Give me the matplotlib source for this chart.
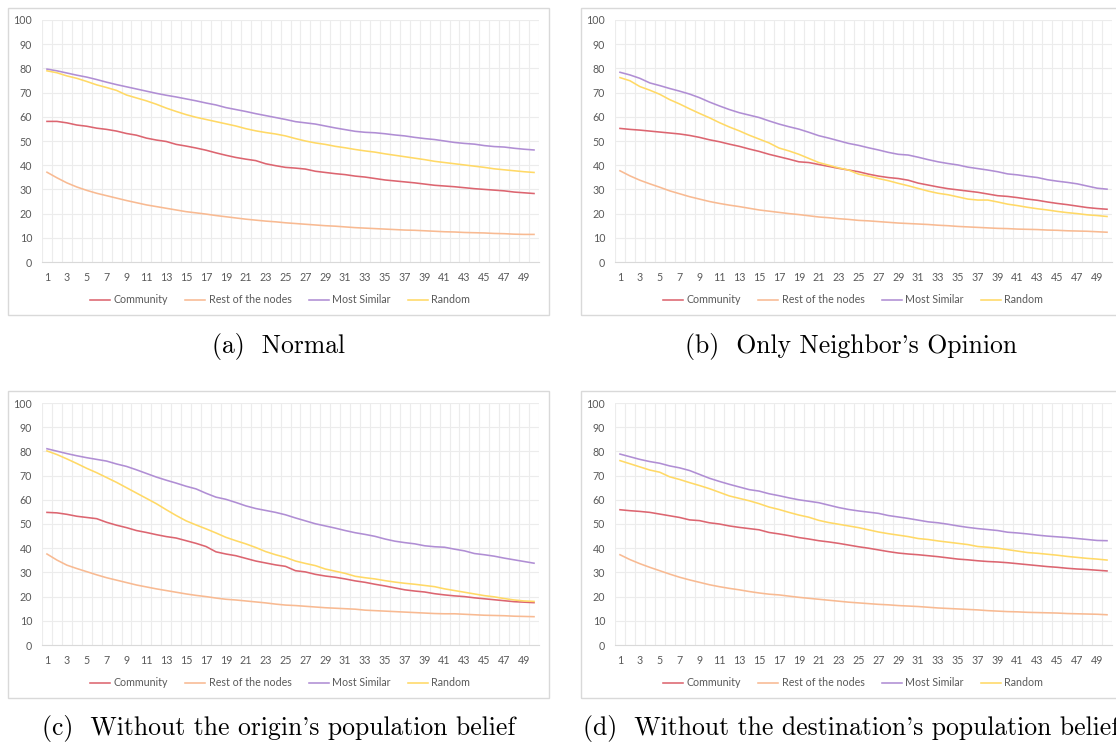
import matplotlib.pyplot as plt
import matplotlib.patches as patches
import numpy as np

W, H = 1116, 742

steps = list(range(1, 51))
series_names = ['Community', 'Rest of the nodes', 'Most Similar', 'Random']
series_colors = ['#DC6570', '#F8BA92', '#B08ED4', '#FFD966']

# (a) Normal
community_a = [58.1, 58.1, 57.5, 56.6, 56.1, 55.3, 54.8, 54.1, 53.1, 52.4,
               51.2, 50.4, 49.8, 48.6, 47.9, 47.1, 46.2, 45.1, 44.1, 43.2,
               42.5, 41.9, 40.6, 39.8, 39.1, 38.8, 38.4, 37.5, 37.0, 36.5,
               36.1, 35.5, 35.1, 34.5, 33.9, 33.5, 33.1, 32.7, 32.2, 31.7,
               31.4, 31.1, 30.7, 30.3, 30.0, 29.7, 29.4, 28.9, 28.6, 28.3]
rest_a = [37.1, 34.8, 32.7, 31.0, 29.6, 28.4, 27.4, 26.4, 25.4, 24.5,
          23.6, 22.9, 22.2, 21.5, 20.8, 20.3, 19.8, 19.2, 18.7, 18.2,
          17.7, 17.3, 16.9, 16.6, 16.2, 15.9, 15.6, 15.3, 15.0, 14.8,
          14.5, 14.2, 14.0, 13.8, 13.6, 13.4, 13.2, 13.1, 12.9, 12.7,
          12.5, 12.4, 12.2, 12.1, 12.0, 11.8, 11.7, 11.5, 11.4, 11.4]
similar_a = [79.7, 79.0, 78.1, 77.2, 76.4, 75.4, 74.3, 73.3, 72.4, 71.5,
             70.6, 69.7, 68.9, 68.2, 67.4, 66.6, 65.7, 64.9, 63.8, 63.0,
             62.2, 61.3, 60.5, 59.7, 58.9, 58.0, 57.5, 57.0, 56.2, 55.4,
             54.7, 54.0, 53.6, 53.4, 53.0, 52.5, 52.1, 51.5, 51.0, 50.6,
             50.0, 49.4, 49.0, 48.7, 48.1, 47.7, 47.5, 47.0, 46.6, 46.3]
random_a = [79.0, 78.2, 76.9, 75.9, 74.6, 73.2, 72.1, 70.9, 69.0, 67.8,
            66.6, 65.2, 63.6, 62.2, 60.9, 59.8, 58.9, 58.0, 57.1, 56.2,
            55.1, 54.2, 53.5, 52.9, 52.1, 51.0, 50.0, 49.2, 48.6, 47.8,
            47.2, 46.5, 45.9, 45.4, 44.7, 44.1, 43.5, 42.9, 42.3, 41.6,
            41.1, 40.6, 40.1, 39.6, 39.1, 38.5, 38.1, 37.7, 37.3, 37.0]

# (b) Only Neighbor's Opinion
community_b = [55.2, 54.8, 54.5, 54.1, 53.7, 53.3, 52.9, 52.3, 51.5, 50.5,
               49.7, 48.7, 47.8, 46.7, 45.7, 44.5, 43.5, 42.5, 41.4, 41.1,
               40.3, 39.5, 38.7, 38.0, 37.3, 36.3, 35.5, 34.9, 34.5, 33.8,
               32.6, 31.8, 31.0, 30.3, 29.8, 29.3, 28.8, 28.1, 27.4, 27.1,
               26.6, 26.0, 25.5, 24.8, 24.2, 23.7, 23.1, 22.5, 22.1, 21.8]
rest_b = [37.7, 35.6, 33.8, 32.3, 30.9, 29.4, 28.2, 27.0, 26.0, 25.0,
          24.2, 23.5, 22.9, 22.2, 21.5, 21.0, 20.5, 20.0, 19.6, 19.1,
          18.6, 18.3, 17.9, 17.6, 17.2, 17.0, 16.7, 16.4, 16.1, 15.9,
          15.7, 15.5, 15.2, 15.0, 14.7, 14.5, 14.3, 14.1, 13.9, 13.8,
          13.6, 13.5, 13.4, 13.2, 13.1, 12.9, 12.8, 12.7, 12.5, 12.3]
similar_b = [78.4, 77.3, 75.9, 74.0, 72.9, 71.7, 70.6, 69.4, 67.9, 66.1,
             64.5, 63.0, 61.7, 60.7, 59.7, 58.3, 57.0, 55.9, 54.9, 53.6,
             52.2, 51.2, 50.1, 49.0, 48.2, 47.2, 46.3, 45.3, 44.5, 44.2,
             43.3, 42.3, 41.4, 40.7, 40.1, 39.2, 38.6, 38.0, 37.3, 36.4,
             36.0, 35.4, 34.9, 34.0, 33.4, 32.9, 32.3, 31.4, 30.5, 30.1]
random_b = [76.2, 74.9, 72.5, 71.0, 69.3, 67.1, 65.3, 63.3, 61.4, 59.6,
            57.6, 55.8, 54.2, 52.4, 50.8, 49.2, 47.1, 45.9, 44.5, 42.8,
            41.1, 40.0, 38.9, 38.0, 36.3, 35.5, 34.5, 33.6, 32.5, 31.5,
            30.4, 29.3, 28.4, 27.8, 26.9, 26.0, 25.6, 25.6, 24.8, 23.9,
            23.3, 22.6, 22.0, 21.5, 20.9, 20.4, 20.0, 19.5, 19.2, 18.8]

# (c) Without the origin's population belief
community_c = [54.8, 54.6, 54.0, 53.2, 52.7, 52.2, 50.7, 49.5, 48.5, 47.3,
               46.5, 45.6, 44.8, 44.2, 43.1, 42.0, 40.7, 38.5, 37.6, 36.9,
               35.8, 34.7, 33.9, 33.1, 32.5, 30.7, 30.2, 29.2, 28.5, 28.0,
               27.3, 26.5, 25.9, 25.1, 24.4, 23.6, 22.8, 22.3, 21.9, 21.2,
               20.7, 20.3, 20.0, 19.5, 19.1, 18.7, 18.3, 17.9, 17.7, 17.5]
rest_c = [37.6, 35.1, 33.0, 31.6, 30.3, 29.0, 27.8, 26.8, 25.8, 24.8,
          24.0, 23.2, 22.5, 21.8, 21.1, 20.5, 20.0, 19.4, 18.9, 18.6,
          18.2, 17.8, 17.4, 16.9, 16.5, 16.3, 16.0, 15.7, 15.4, 15.2,
          15.0, 14.8, 14.4, 14.2, 14.0, 13.8, 13.6, 13.4, 13.2, 13.0,
          12.9, 12.9, 12.7, 12.5, 12.3, 12.2, 12.1, 11.9, 11.8, 11.7]
similar_c = [81.1, 80.1, 79.1, 78.2, 77.4, 76.7, 76.0, 74.8, 73.8, 72.4,
             70.9, 69.4, 68.1, 66.9, 65.6, 64.5, 62.7, 61.1, 60.2, 58.9,
             57.5, 56.4, 55.6, 54.8, 53.8, 52.5, 51.3, 50.1, 49.2, 48.3,
             47.3, 46.4, 45.7, 44.9, 43.8, 42.9, 42.3, 41.8, 41.0, 40.6,
             40.4, 39.6, 38.9, 37.8, 37.3, 36.7, 35.9, 35.2, 34.5, 33.8]
random_c = [80.2, 78.7, 76.9, 75.0, 73.0, 71.2, 69.2, 67.2, 65.0, 62.8,
            60.6, 58.4, 55.9, 53.5, 51.3, 49.6, 48.0, 46.3, 44.5, 43.1,
            41.8, 40.3, 38.6, 37.3, 36.2, 34.7, 33.7, 32.8, 31.4, 30.5,
            29.6, 28.4, 27.8, 27.3, 26.6, 26.0, 25.5, 25.1, 24.6, 24.1,
            23.2, 22.5, 21.8, 21.1, 20.4, 19.9, 19.2, 18.6, 18.2, 18.0]

# (d) Without the destination's population belief
community_d = [55.9, 55.5, 55.2, 54.8, 54.1, 53.4, 52.7, 51.7, 51.4, 50.5,
               50.0, 49.2, 48.6, 48.1, 47.6, 46.5, 45.9, 45.2, 44.4, 43.8,
               43.1, 42.6, 42.0, 41.3, 40.6, 40.0, 39.3, 38.6, 38.0, 37.6,
               37.3, 36.9, 36.5, 36.0, 35.5, 35.2, 34.8, 34.5, 34.3, 34.0,
               33.6, 33.2, 32.8, 32.4, 32.1, 31.7, 31.4, 31.2, 30.9, 30.6]
rest_d = [37.3, 35.3, 33.6, 32.1, 30.7, 29.3, 28.0, 26.9, 25.9, 24.9,
          24.1, 23.4, 22.8, 22.1, 21.5, 21.0, 20.7, 20.2, 19.7, 19.3,
          18.9, 18.5, 18.1, 17.7, 17.4, 17.1, 16.8, 16.6, 16.3, 16.1,
          15.9, 15.6, 15.3, 15.1, 14.9, 14.7, 14.5, 14.2, 14.0, 13.8,
          13.7, 13.5, 13.4, 13.3, 13.2, 13.0, 12.9, 12.8, 12.7, 12.5]
similar_d = [78.9, 77.8, 76.7, 75.8, 75.1, 74.0, 73.2, 72.1, 70.5, 68.9,
             67.6, 66.4, 65.3, 64.2, 63.6, 62.5, 61.7, 60.8, 60.0, 59.4,
             58.8, 57.8, 56.8, 56.0, 55.4, 54.9, 54.4, 53.5, 52.9, 52.3,
             51.6, 50.9, 50.5, 49.9, 49.2, 48.6, 48.1, 47.7, 47.3, 46.6,
             46.3, 45.9, 45.4, 45.0, 44.7, 44.4, 44.0, 43.6, 43.2, 43.1]
random_d = [76.2, 74.9, 73.6, 72.3, 71.4, 69.5, 68.4, 67.1, 65.9, 64.6,
            63.1, 61.6, 60.6, 59.6, 58.4, 57.0, 56.0, 54.8, 53.7, 52.8,
            51.5, 50.6, 49.9, 49.2, 48.5, 47.6, 46.7, 46.0, 45.4, 44.8,
            44.0, 43.6, 43.0, 42.5, 42.0, 41.5, 40.7, 40.4, 40.0, 39.4,
            38.8, 38.2, 37.9, 37.5, 37.1, 36.6, 36.2, 35.8, 35.5, 35.1]

panels = [
    (community_a, rest_a, similar_a, random_a),
    (community_b, rest_b, similar_b, random_b),
    (community_c, rest_c, similar_c, random_c),
    (community_d, rest_d, similar_d, random_d),
]
captions = [
    '(a)  Normal',
    "(b)  Only Neighbor's Opinion",
    "(c)  Without the origin's population belief",
    "(d)  Without the destination's population belief",
]

fig = plt.figure(figsize=(W / 100, H / 100), dpi=100)


def rect(x, y, w, h):
    # pixel box (top-left origin) -> figure fraction
    return [x / W, 1 - (y + h) / H, w / W, h / H]


origins = [(8, 8), (581, 8), (8, 391), (581, 391)]
box_w, box_h = 541, 307

for (bx, by), data, caption in zip(origins, panels, captions):
    border = patches.Rectangle((bx / W, 1 - (by + box_h) / H), box_w / W, box_h / H,
                               transform=fig.transFigure, fill=False,
                               edgecolor='#D9D9D9', linewidth=1.0)
    fig.add_artist(border)

    ax = fig.add_axes(rect(bx + 34, by + 12, 497, 242))
    handles = []
    for values, name, color in zip(data, series_names, series_colors):
        line, = ax.plot(steps, values, color=color, linewidth=1.15, label=name)
        handles.append(line)

    ax.set_xlim(0.5, 50.5)
    ax.set_ylim(0, 100)
    ax.set_xticks(range(1, 50, 2))
    ax.set_xticks(np.arange(0.5, 51, 1), minor=True)
    ax.set_yticks(range(0, 101, 10))
    ax.grid(axis='y', which='major', color='#ECECEC', linewidth=0.8)
    ax.grid(axis='x', which='minor', color='#ECECEC', linewidth=0.8)
    ax.set_axisbelow(True)
    ax.tick_params(which='both', length=0, labelsize=7.7, labelcolor='#595959')
    ax.tick_params(axis='x', pad=7)
    ax.tick_params(axis='y', pad=7)
    for side in ['top', 'right', 'left']:
        ax.spines[side].set_visible(False)
    ax.spines['bottom'].set_color('#D9D9D9')
    for lbl in ax.get_xticklabels() + ax.get_yticklabels():
        lbl.set_fontfamily('Lato')

    fig.legend(handles, series_names, loc='center',
               bbox_to_anchor=((bx + 272) / W, 1 - (by + 292) / H),
               ncol=4, frameon=False, prop={'family': 'Lato', 'size': 7.7},
               labelcolor='#595959', handlelength=1.9, handletextpad=0.3,
               columnspacing=1.6)

    fig.text((bx + box_w / 2) / W, 1 - (by + 338) / H, caption,
             ha='center', va='center', fontfamily='cmr10', fontsize=18.5)

plt.savefig('out.png', dpi=100)
plt.close()
